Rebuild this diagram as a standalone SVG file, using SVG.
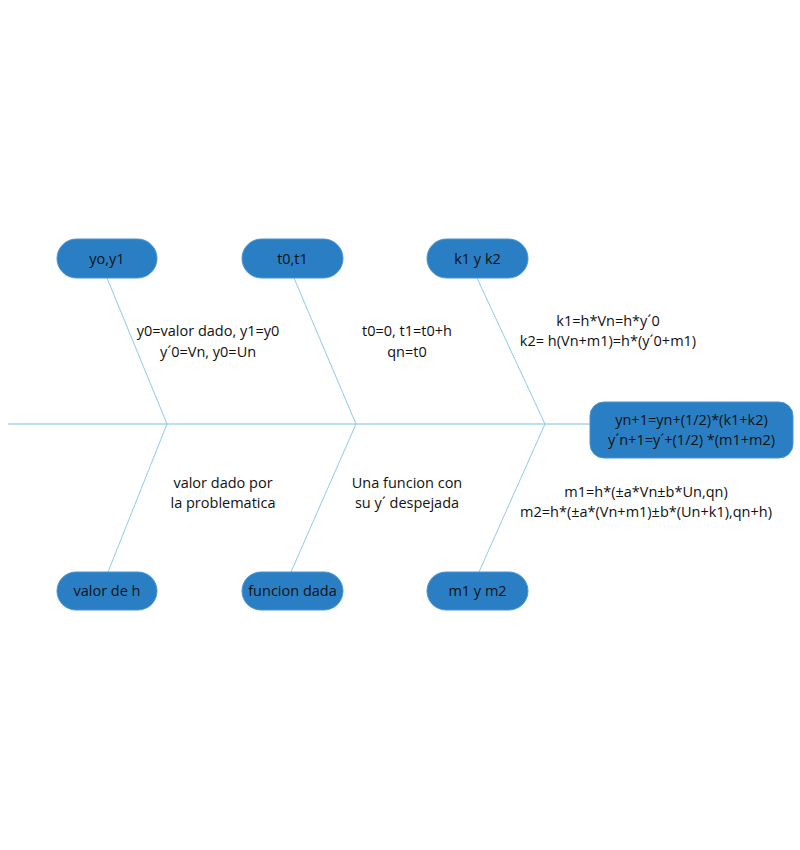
<svg xmlns="http://www.w3.org/2000/svg" width="800" height="850" viewBox="0 0 800 850">
  <style>
    .node rect { fill: #2a7fc4; stroke: #4a94cf; stroke-width: 1; }
    .node text { font-family: "Open Sans", "Liberation Sans", sans-serif; font-size: 14.5px; fill: #111; text-anchor: middle; }
    .bone { stroke: #8ecbea; stroke-width: 1; fill: none; }
    .spine { stroke: #7dbde3; stroke-width: 1; fill: none; }
    .label { font-family: "Open Sans", "Liberation Sans", sans-serif; font-size: 14.5px; fill: #111; text-anchor: middle; }
  </style>
  <rect width="800" height="850" fill="#ffffff"/>

  <g id="connectors">
    <line class="spine" x1="8" y1="424" x2="590" y2="424"/>
    <line class="bone" x1="107" y1="278" x2="167" y2="424"/>
    <line class="bone" x1="294" y1="278" x2="356" y2="424"/>
    <line class="bone" x1="477" y1="278" x2="545" y2="424"/>
    <line class="bone" x1="167" y1="424" x2="108" y2="572"/>
    <line class="bone" x1="356" y1="424" x2="291" y2="572"/>
    <line class="bone" x1="545" y1="424" x2="479" y2="572"/>
  </g>

  <g id="labels">
    <text class="label" x="208" y="336">y0=valor dado, y1=y0</text>
    <text class="label" x="208" y="357">y´0=Vn, y0=Un</text>
    <text class="label" x="407" y="336">t0=0, t1=t0+h</text>
    <text class="label" x="407" y="357">qn=t0</text>
    <text class="label" x="608" y="326">k1=h*Vn=h*y´0</text>
    <text class="label" x="608" y="346">k2= h(Vn+m1)=h*(y´0+m1)</text>
    <text class="label" x="223" y="488">valor dado por</text>
    <text class="label" x="223" y="508">la problematica</text>
    <text class="label" x="407" y="488">Una funcion con</text>
    <text class="label" x="407" y="508">su y´ despejada</text>
    <text class="label" x="646" y="497">m1=h*(±a*Vn±b*Un,qn)</text>
    <text class="label" x="646" y="517">m2=h*(±a*(Vn+m1)±b*(Un+k1),qn+h)</text>
  </g>

  <g id="node-yo-y1" class="node">
    <rect x="57" y="239" width="100" height="39" rx="19.5"/>
    <text x="107" y="264">yo,y1</text>
  </g>
  <g id="node-t0-t1" class="node">
    <rect x="242" y="239" width="101" height="39" rx="19.5"/>
    <text x="292.5" y="264">t0,t1</text>
  </g>
  <g id="node-k1-k2" class="node">
    <rect x="427" y="239" width="101" height="39" rx="19.5"/>
    <text x="477.5" y="264">k1 y k2</text>
  </g>
  <g id="node-valor-h" class="node">
    <rect x="57" y="572" width="100" height="38" rx="19"/>
    <text x="107" y="596">valor de h</text>
  </g>
  <g id="node-funcion" class="node">
    <rect x="242" y="572" width="101" height="38" rx="19"/>
    <text x="292.5" y="596">funcion dada</text>
  </g>
  <g id="node-m1-m2" class="node">
    <rect x="427" y="572" width="101" height="38" rx="19"/>
    <text x="477.5" y="596">m1 y m2</text>
  </g>
  <g id="node-result" class="node">
    <rect x="590" y="402" width="203" height="56" rx="14"/>
    <text x="691.5" y="425">yn+1=yn+(1/2)*(k1+k2)</text>
    <text x="691.5" y="445">y´n+1=y´+(1/2) *(m1+m2)</text>
  </g>
</svg>
